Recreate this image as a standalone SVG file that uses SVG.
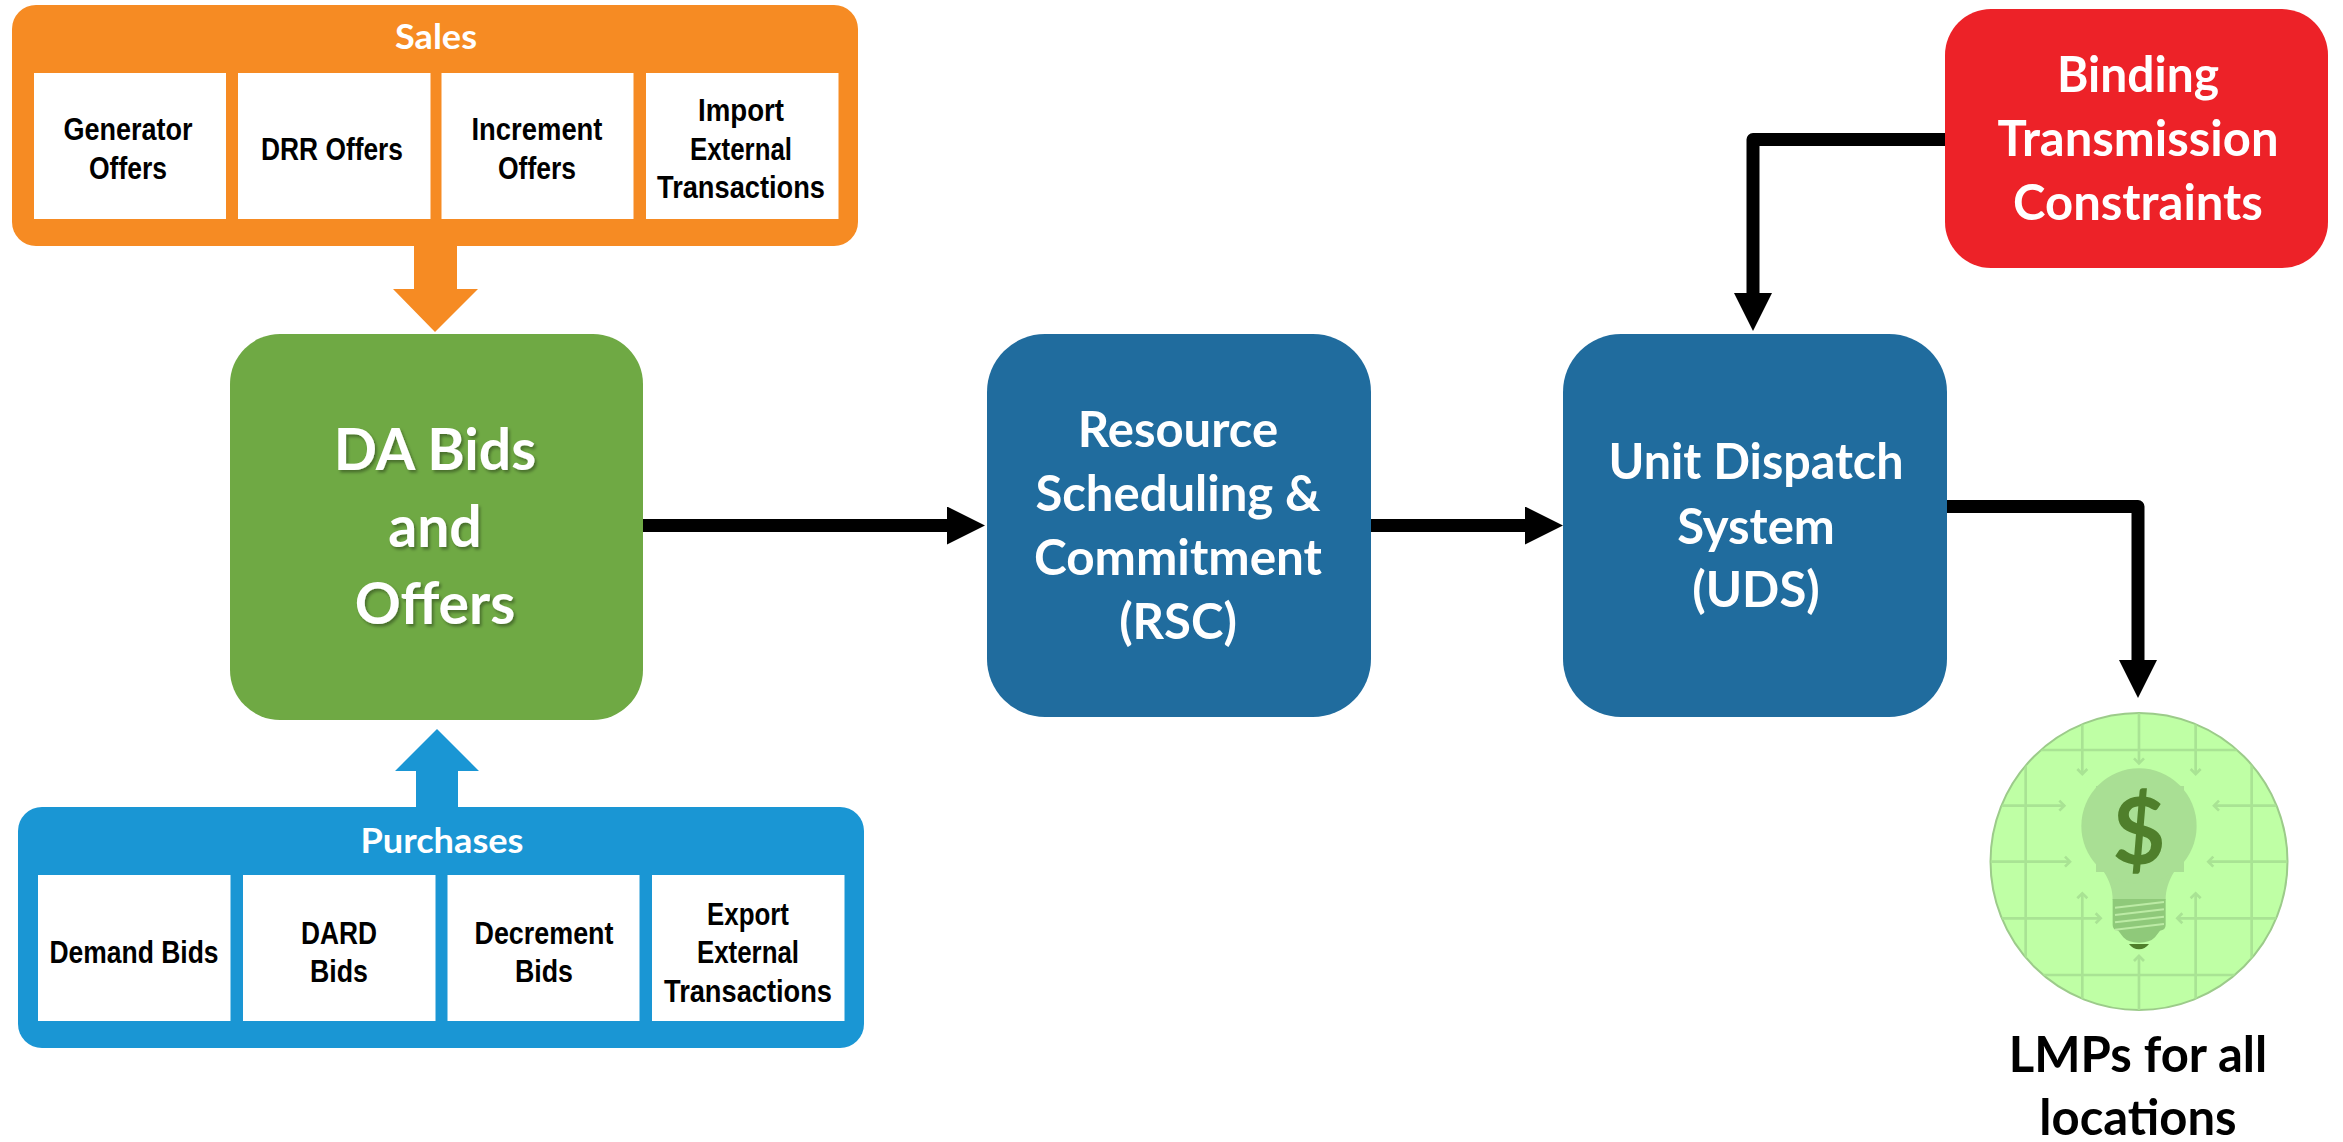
<svg xmlns="http://www.w3.org/2000/svg" width="2343" height="1142" viewBox="0 0 2343 1142">
<defs>
<style>
.big{font-family:Lato,"Carlito","Liberation Sans",sans-serif;font-weight:700;text-anchor:middle;fill:#fff}
.small{font-family:"Liberation Sans",Arial,sans-serif;font-weight:700;font-size:31px;text-anchor:middle;fill:#000}
.cell{fill:#fff}
.conn{fill:none;stroke:#000;stroke-width:13;stroke-linejoin:round}
.grid{fill:none;stroke:#A9E394;stroke-width:8}
</style>
<marker id="head" markerUnits="userSpaceOnUse" markerWidth="39" markerHeight="39" refX="0" refY="19" orient="auto"><path d="M0 0L38 19L0 38Z" fill="#000"/></marker>
<filter id="sh" x="-10%" y="-10%" width="120%" height="130%"><feDropShadow dx="2" dy="2.5" stdDeviation="1.5" flood-color="#000" flood-opacity=".35"/></filter>
<clipPath id="cc"><circle cx="537" cy="485" r="445"/></clipPath>
</defs>
<rect width="2343" height="1142" fill="#fff"/>
<g id="connectors">
<polygon points="414,240 457,240 457,289 478,289 435,332 393,289 414,289" fill="#F68B23"/>
<polygon points="416,812 458,812 458,771 479,771 437,729 395,771 416,771" fill="#1A96D4"/>
<path class="conn" marker-end="url(#head)" d="M643 525.5H947"/>
<path class="conn" marker-end="url(#head)" d="M1371 525.5H1525"/>
<path class="conn" marker-end="url(#head)" d="M1945 139.5H1753V293"/>
<path class="conn" marker-end="url(#head)" d="M1947 506.5H2138V660"/>
</g>
<g id="sales">
<rect x="12" y="5" width="846" height="241" rx="24" fill="#F68B23"/>
<text class="big" x="436" y="49" font-size="34" textLength="82" lengthAdjust="spacingAndGlyphs">Sales</text>
<rect class="cell" x="34" y="73" width="192" height="146"/>
<rect class="cell" x="238" y="73" width="192.500" height="146"/>
<rect class="cell" x="441.500" y="73" width="192" height="146"/>
<rect class="cell" x="646" y="73" width="192.500" height="146"/>
<text class="small" x="128" y="140" textLength="129" lengthAdjust="spacingAndGlyphs">Generator</text>
<text class="small" x="128" y="179" textLength="78" lengthAdjust="spacingAndGlyphs">Offers</text>
<text class="small" x="332" y="160" textLength="142" lengthAdjust="spacingAndGlyphs">DRR Offers</text>
<text class="small" x="537" y="140" textLength="131" lengthAdjust="spacingAndGlyphs">Increment</text>
<text class="small" x="537" y="179" textLength="78" lengthAdjust="spacingAndGlyphs">Offers</text>
<text class="small" x="741" y="121" textLength="86" lengthAdjust="spacingAndGlyphs">Import</text>
<text class="small" x="741" y="160" textLength="102" lengthAdjust="spacingAndGlyphs">External</text>
<text class="small" x="741" y="198" textLength="168" lengthAdjust="spacingAndGlyphs">Transactions</text>
</g>
<g id="purchases">
<rect x="18" y="807" width="846" height="241" rx="24" fill="#1A96D4"/>
<text class="big" x="442" y="853" font-size="34" textLength="163" lengthAdjust="spacingAndGlyphs">Purchases</text>
<rect class="cell" x="38" y="875" width="192.500" height="146"/>
<rect class="cell" x="243" y="875" width="192.500" height="146"/>
<rect class="cell" x="447.500" y="875" width="192" height="146"/>
<rect class="cell" x="652" y="875" width="192.500" height="146"/>
<text class="small" x="134" y="963" textLength="169" lengthAdjust="spacingAndGlyphs">Demand Bids</text>
<text class="small" x="339" y="944" textLength="76" lengthAdjust="spacingAndGlyphs">DARD</text>
<text class="small" x="339" y="982" textLength="58" lengthAdjust="spacingAndGlyphs">Bids</text>
<text class="small" x="544" y="944" textLength="139" lengthAdjust="spacingAndGlyphs">Decrement</text>
<text class="small" x="544" y="982" textLength="58" lengthAdjust="spacingAndGlyphs">Bids</text>
<text class="small" x="748" y="925" textLength="82" lengthAdjust="spacingAndGlyphs">Export</text>
<text class="small" x="748" y="963" textLength="102" lengthAdjust="spacingAndGlyphs">External</text>
<text class="small" x="748" y="1002" textLength="168" lengthAdjust="spacingAndGlyphs">Transactions</text>
</g>
<g id="da-bids">
<rect x="230" y="334" width="413" height="386" rx="50" fill="#6FA944"/>
<g filter="url(#sh)" class="big" font-size="57">
<text x="435" y="470">DA Bids</text>
<text x="435" y="547">and</text>
<text x="435" y="624">Offers</text>
</g>
</g>
<g id="rsc">
<rect x="987" y="334" width="384" height="383" rx="58" fill="#206C9E"/>
<g class="big" font-size="49">
<text x="1178" y="447">Resource</text>
<text x="1178" y="511">Scheduling &amp;</text>
<text x="1178" y="575" textLength="288" lengthAdjust="spacingAndGlyphs">Commitment</text>
<text x="1178" y="639">(RSC)</text>
</g>
</g>
<g id="uds">
<rect x="1563" y="334" width="384" height="383" rx="58" fill="#206C9E"/>
<g class="big" font-size="49">
<text x="1756" y="479" textLength="295" lengthAdjust="spacingAndGlyphs">Unit Dispatch</text>
<text x="1756" y="544">System</text>
<text x="1756" y="607">(UDS)</text>
</g>
</g>
<g id="binding">
<rect x="1945" y="9" width="383" height="259" rx="46" fill="#ED2228"/>
<g class="big" font-size="49">
<text x="2138" y="92" textLength="162" lengthAdjust="spacingAndGlyphs">Binding</text>
<text x="2138" y="156" textLength="281" lengthAdjust="spacingAndGlyphs">Transmission</text>
<text x="2138" y="220">Constraints</text>
</g>
</g>
<g id="lmp">
<circle cx="2139" cy="861.500" r="148.500" fill="#BFFFA5" stroke="#9CCB8A" stroke-width="2"/>
<g transform="translate(1960 700) scale(.3333)">
<g clip-path="url(#cc)" class="grid">
<path d="M197 0V900M875 0V900M0 150H1020M0 825H1020"/>
<path d="M367 0V222M537 0V190M707 0V222M0 317H313M1020 317H762M0 485H330M1020 485H745M0 655H422M1020 655H652M367 1000V580M707 1000V580M537 1000V768"/>
<path d="M352 207L367 222L382 207M522 175L537 190L552 175M692 207L707 222L722 207M298 302L313 317L298 332M777 302L762 317L777 332M315 470L330 485L315 500M760 470L745 485L760 500M407 640L422 655L407 670M667 640L652 655L667 670M352 595L367 580L382 595M692 595L707 580L722 595M522 783L537 768L552 783"/>
</g>
<path d="M408 258H672V516H642C625 545 617 570 617 600H458C458 570 450 545 432 516H408Z" fill="#A9DF94"/>
<circle cx="537" cy="378" r="173" fill="#A9DF94"/>
<path d="M458 597H617V675Q617 690 600 692L585 712Q570 728 537 728Q505 728 490 712L475 692Q458 690 458 675Z" fill="#8FC97A"/>
<path class="grid" style="stroke:#BCEBA5;stroke-width:6" d="M465 623L612 606M465 645L612 628M465 667L612 650M465 689L612 672"/>
<path d="M507 732H567Q555 748 537 748Q519 748 507 732Z" fill="#4F7F2B"/>
</g>
<text x="2139" y="864" font-family="Lato,'Liberation Sans',sans-serif" font-weight="700" font-size="92" text-anchor="middle" fill="#4F7F2B">$</text>
<g class="big" font-size="49" style="fill:#000">
<text x="2138" y="1072">LMPs for all</text>
<text x="2138" y="1135">locations</text>
</g>
</g>
</svg>
